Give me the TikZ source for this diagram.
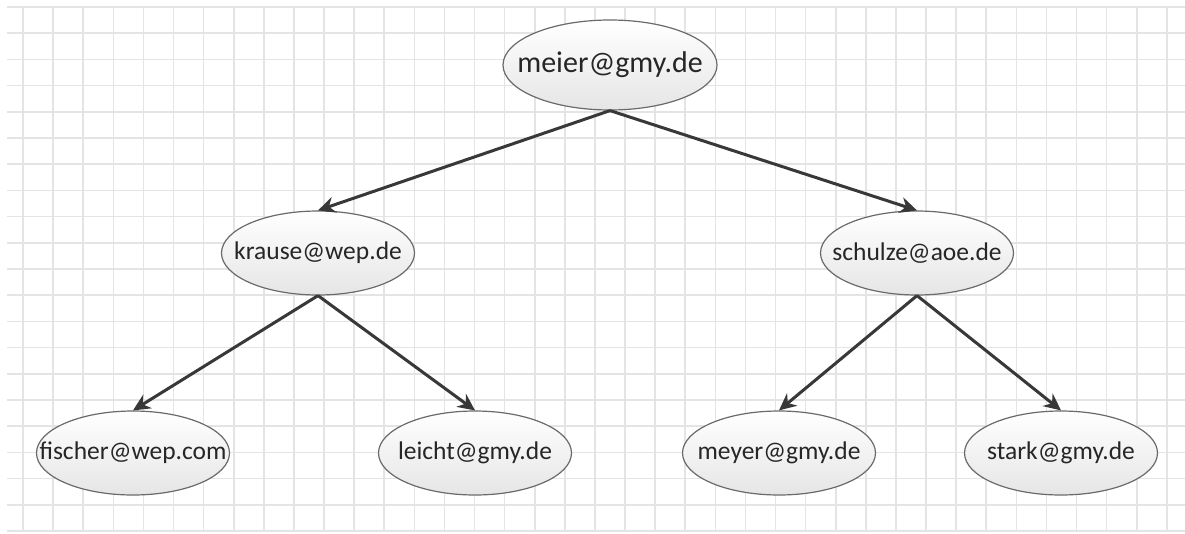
\documentclass[tikz,border=0pt]{standalone}
\usepackage{fontspec}
\setmainfont{Carlito}
\usetikzlibrary{shapes.geometric,arrows.meta}
\definecolor{gridgray}{HTML}{E4E4E4}
\definecolor{linkgray}{HTML}{383838}
\definecolor{rimgray}{HTML}{6A6A6A}
\newcommand\addr[1]{\makebox[0pt]{#1}}
\tikzset{
  mail/.style={ellipse,draw=rimgray,line width=1.2pt,top color=white,bottom color=black!10,
    minimum width=193pt,minimum height=84pt,inner sep=0pt,text=black!85,font=\fontsize{25.5}{28}\selectfont},
  rootmail/.style={mail,minimum width=214pt,minimum height=90pt,font=\fontsize{30}{32}\selectfont},
  link/.style={->,draw=linkgray,line width=3pt}
}
\begin{document}
\begin{tikzpicture}[>={Stealth[length=17pt,width=16pt]},x=1pt,y=-1pt]
	\useasboundingbox[fill=white] (0,0) rectangle (1185,533);
	% grid
	\foreach \k in {0,...,20}
		\draw[gridgray,line width=1.6pt] (7,7+26.2*\k) -- (1185,7+26.2*\k);
	\foreach \k in {0,...,38}
		\draw[gridgray,line width=1.6pt] (23+30.1*\k,7) -- (23+30.1*\k,531);
	% addresses
	\node[rootmail] (meier) at (610,65) {\addr{meier@gmy.de}};
	\node[mail] (krause) at (318,253) {\addr{krause@wep.de}};
	\node[mail] (schulze) at (917,253) {\addr{schulze@aoe.de}};
	\node[mail] (fischer) at (133,453) {\addr{fischer@wep.com}};
	\node[mail] (leicht) at (475,453) {\addr{leicht@gmy.de}};
	\node[mail] (meyer) at (779,453) {\addr{meyer@gmy.de}};
	\node[mail] (stark) at (1061,453) {\addr{stark@gmy.de}};
	% links
	\draw[link] (meier.south) -- (krause.north);
	\draw[link] (meier.south) -- (schulze.north);
	\draw[link] (krause.south) -- (fischer.north);
	\draw[link] (krause.south) -- (leicht.north);
	\draw[link] (schulze.south) -- (meyer.north);
	\draw[link] (schulze.south) -- (stark.north);
\end{tikzpicture}
\end{document}
